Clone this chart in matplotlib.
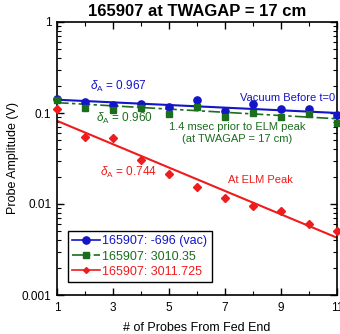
import matplotlib
matplotlib.use('Agg')
import matplotlib.pyplot as plt
from matplotlib.lines import Line2D
from matplotlib.ticker import FixedLocator, NullFormatter, LogLocator
import numpy as np

plt.rcParams['font.family'] = ['Liberation Sans', 'DejaVu Sans']
plt.rcParams['mathtext.fontset'] = 'custom'
plt.rcParams['mathtext.rm'] = 'Liberation Sans'
plt.rcParams['mathtext.it'] = 'Liberation Sans:italic'

# probe index from fed end
probes = np.arange(1, 12)

# measured probe amplitudes (V)
vac = [0.1415, 0.133, 0.1215, 0.1265, 0.1155, 0.139, 0.106, 0.1246, 0.110, 0.1106, 0.095]
pre_elm = [0.138, 0.1125, 0.108, 0.1125, 0.098, 0.117, 0.091, 0.099, 0.090, 0.097, 0.077]
elm_peak = [0.111, 0.055, 0.0526, 0.0305, 0.0214, 0.0155, 0.0116, 0.0095, 0.0084, 0.0060, 0.0050]

# exponential fits: amplitude at probe 1 and decay per probe
fit_start = [0.140, 0.130, 0.082]
deltas = [0.967, 0.960, 0.744]

labels = ['165907: -696 (vac)', '165907: 3010.35', '165907: 3011.725']
blue, green, red = '#1414c8', '#1a6e1e', '#ee1c1c'

fig = plt.figure(figsize=(3.4, 3.34), dpi=100)
ax = fig.add_axes([57/340, 1-295/334, 280/340, 273/334])

xf = np.array([1.0, 11.0])
ax.plot(xf, fit_start[0]*deltas[0]**(xf-1), color=blue, lw=1.5)
ax.plot(xf, fit_start[1]*deltas[1]**(xf-1), color=green, lw=1.2, ls=(0, (7, 2, 2, 2)))
ax.plot(xf, fit_start[2]*deltas[2]**(xf-1), color=red, lw=1.5)

ax.plot(probes, elm_peak, ls='none', marker='D', ms=4.3, color=red, clip_on=False, zorder=3)
ax.plot(probes, vac, ls='none', marker='o', ms=5.2, color=blue, clip_on=False, zorder=4)
ax.plot(probes, pre_elm, ls='none', marker='s', ms=4.5, color=green, clip_on=False, zorder=5)

ax.set_yscale('log')
ax.set_xlim(1, 11)
ax.set_ylim(0.001, 1)
ax.set_xticks([1, 3, 5, 7, 9, 11])
ax.xaxis.set_minor_locator(FixedLocator(probes))
ax.set_yticks([0.001, 0.01, 0.1, 1])
ax.set_yticklabels(['0.001', '0.01', '0.1', '1'])
ax.yaxis.set_minor_locator(LogLocator(base=10, subs=np.arange(2, 10)))
ax.yaxis.set_minor_formatter(NullFormatter())
ax.tick_params(which='both', direction='in', top=True, right=True, labelsize=8.5)
ax.tick_params(axis='x', pad=5)
ax.tick_params(axis='y', pad=4)
ax.tick_params(which='major', length=5, width=1)
ax.tick_params(which='minor', length=3, width=0.8)
for s in ax.spines.values():
    s.set_linewidth(1.2)

ax.set_title('165907 at TWAGAP = 17 cm', fontsize=12, fontweight='bold', pad=4)
ax.set_xlabel('# of Probes From Fed End', fontsize=9, labelpad=6)
ax.set_ylabel('Probe Amplitude (V)', fontsize=9, labelpad=2)

ax.text(2.18, 0.179, r'$\delta_{\rm A}$ = %.3f' % deltas[0], color=blue, fontsize=8.5, ha='left', va='baseline')
ax.text(10.92, 0.1355, 'Vacuum Before t=0', color=blue, fontsize=8, ha='right', va='baseline')
ax.text(2.39, 0.0803, r'$\delta_{\rm A}$ = %.3f' % deltas[1], color=green, fontsize=8.5, ha='left', va='baseline')
ax.text(7.45, 0.065, '1.4 msec prior to ELM peak', color=green, fontsize=8, ha='center', va='baseline')
ax.text(7.45, 0.0484, '(at TWAGAP = 17 cm)', color=green, fontsize=8, ha='center', va='baseline')
ax.text(2.54, 0.0203, r'$\delta_{\rm A}$ = %.3f' % deltas[2], color=red, fontsize=8.5, ha='left', va='baseline')
ax.text(8.27, 0.01687, 'At ELM Peak', color=red, fontsize=8, ha='center', va='baseline')

handles = [
    Line2D([], [], color=blue, marker='o', ms=5.2, lw=1.2),
    Line2D([], [], color=green, marker='s', ms=4.5, lw=1.2, ls=(0, (7, 2, 2, 2))),
    Line2D([], [], color=red, marker='D', ms=3, lw=1.2),
]
leg = ax.legend(handles, labels, loc='upper left', bbox_to_anchor=(0.039, 0.234),
                borderaxespad=0, fontsize=9, fancybox=False, framealpha=1,
                handlelength=2.2, handletextpad=0.2, borderpad=0.35, labelspacing=0.25)
leg.get_frame().set_edgecolor('black')
leg.get_frame().set_linewidth(1.0)
for t, c in zip(leg.get_texts(), [blue, green, red]):
    t.set_color(c)

fig.savefig('out.png', dpi=100)
